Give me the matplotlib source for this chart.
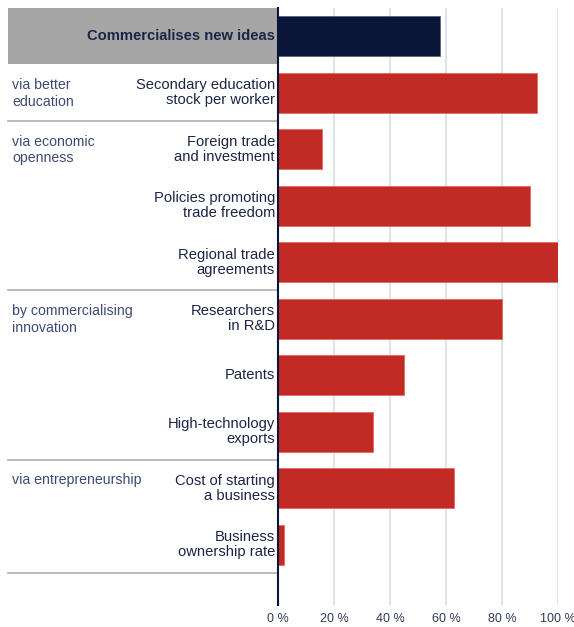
import matplotlib
matplotlib.use("Agg")
import matplotlib.pyplot as plt
from matplotlib.transforms import blended_transform_factory
from matplotlib.patches import Rectangle
from matplotlib.lines import Line2D

plt.rcParams['font.family'] = ['Liberation Sans', 'DejaVu Sans']

categories = [
    "Commercialises new ideas",
    "Secondary education\nstock per worker",
    "Foreign trade\nand investment",
    "Policies promoting\ntrade freedom",
    "Regional trade\nagreements",
    "Researchers\nin R&D",
    "Patents",
    "High-technology\nexports",
    "Cost of starting\na business",
    "Business\nownership rate",
]
values = [58, 92.7, 15.7, 90, 100, 80, 45, 34, 63, 1.9]
groups = [
    (1, "via better\neducation"),
    (2, "via economic\nopenness"),
    (5, "by commercialising\ninnovation"),
    (8, "via entrepreneurship"),
]
separators = [1.5, 4.5, 7.5, 9.5]
xticks = [0, 20, 40, 60, 80, 100]
xticklabels = ["0 %", "20 %", "40 %", "60 %", "80 %", "100 %"]

W, H = 574, 627
fig = plt.figure(figsize=(W / 100, H / 100), dpi=100)
ax = fig.add_axes([278.3 / W, 22 / H, (557.7 - 278.3) / W, (619 - 22) / H])

RED = "#c22b25"
NAVY = "#0b1539"
TXT = "#1c2447"
GRP = "#3d4a78"

ypos = list(range(len(categories)))
colors = [NAVY] + [RED] * (len(categories) - 1)
ax.barh(ypos, values, height=0.71, color=colors, edgecolor=["#5a6480"] + ["#e06a60"] * 9,
        linewidth=0.6, zorder=3)
ax.set_xlim(0, 100)
ax.set_ylim(10.07, -0.5)

ax.set_xticks(xticks)
ax.set_xticklabels(xticklabels, fontsize=9, color="#333a55")
ax.tick_params(axis='x', length=0, pad=6)
ax.set_yticks([])
ax.grid(axis='x', color="#d9dbe8", linewidth=1.2, zorder=0)
for s in ["top", "right", "bottom"]:
    ax.spines[s].set_visible(False)
ax.spines["left"].set_color(NAVY)
ax.spines["left"].set_linewidth(1.5)
ax.spines["left"].set_zorder(5)

tr = blended_transform_factory(fig.transFigure, ax.transData)
# gray header band
ax.add_patch(Rectangle((8 / W, -0.5), (278 - 8) / W, 1.0, transform=tr,
                       facecolor="#a6a6a6", edgecolor="none", clip_on=False, zorder=1))
for s in separators:
    ax.add_line(Line2D([8 / W, 278 / W], [s, s], transform=tr, color="#b5b5b5",
                       linewidth=1.3, clip_on=False))

for i, lab in enumerate(categories):
    if i == 0:
        ax.text(275 / W, i, lab, transform=tr, ha="right", va="center",
                fontsize=10.6, fontweight="bold", color=TXT, clip_on=False)
    else:
        ax.text(275 / W, i, lab, transform=tr, ha="right", va="center",
                fontsize=10.6, color=TXT, linespacing=1.1, clip_on=False)

for i, lab in groups:
    ax.text(12 / W, i - 0.26, lab, transform=tr, ha="left", va="top",
            fontsize=10.2, color=GRP, linespacing=1.25, clip_on=False)

fig.savefig("out.png", dpi=100)
